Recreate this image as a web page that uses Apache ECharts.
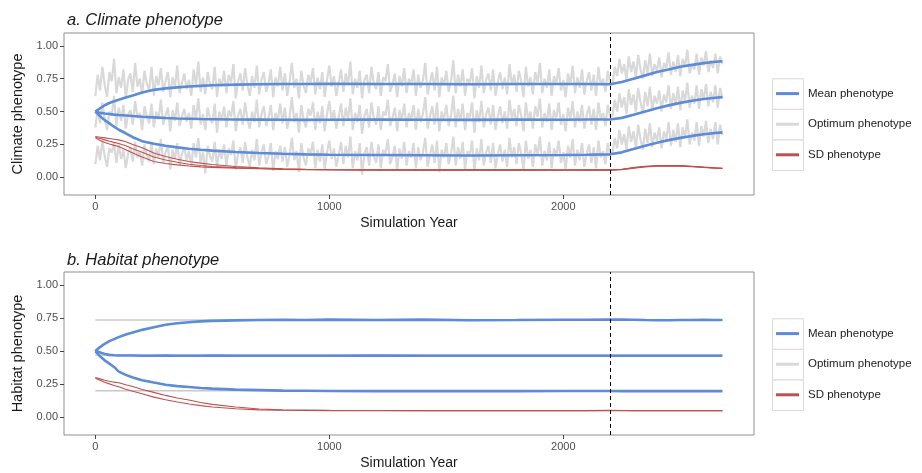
<!DOCTYPE html>
<html><head><meta charset="utf-8">
<script src="https://cdn.jsdelivr.net/npm/echarts@6/dist/echarts.min.js"></script>
<style>html,body{margin:0;padding:0;background:#fff}#c{width:922px;height:473px}</style>
</head><body><div id="c"></div>
<script>
// ---------- tick labels / markers ----------
const xTicks = [0, 1000, 2000];
const yTicks = [0, 0.25, 0.5, 0.75, 1.0];
const changeYear = 2200;
const seriesNames = ['Mean phenotype', 'Optimum phenotype', 'SD phenotype'];

// ---------- optimum (noisy) climate phenotype, one value per 10 simulation years (0..2680) ----------
const optYears = Array.from({length: 269}, (_, i) => i * 10);
const climOptHigh = [
0.62,0.78,0.66,0.84,0.70,0.61,0.80,0.73,0.90,0.64,0.76,0.68,0.82,0.60,0.74,0.79,0.65,0.87,0.69,0.75,
0.63,0.81,0.71,0.66,0.84,0.62,0.77,0.70,0.83,0.65,0.73,0.80,0.61,0.76,0.69,0.85,0.64,0.72,0.79,0.67,
0.74,0.62,0.82,0.70,0.88,0.65,0.76,0.63,0.80,0.71,0.67,0.84,0.61,0.75,0.69,0.81,0.64,0.78,0.72,0.86,
0.60,0.73,0.79,0.66,0.83,0.70,0.62,0.77,0.68,0.85,0.63,0.74,0.80,0.65,0.71,0.82,0.61,0.76,0.69,0.84,
0.66,0.79,0.62,0.73,0.87,0.68,0.75,0.60,0.81,0.70,0.64,0.78,0.72,0.83,0.63,0.76,0.67,0.80,0.61,0.74,
0.85,0.69,0.77,0.62,0.72,0.82,0.65,0.79,0.70,0.88,0.63,0.75,0.68,0.81,0.60,0.74,0.78,0.64,0.84,0.71,
0.67,0.80,0.62,0.76,0.73,0.86,0.65,0.71,0.79,0.61,0.77,0.69,0.83,0.64,0.75,0.70,0.82,0.62,0.78,0.68,
0.74,0.87,0.63,0.72,0.80,0.66,0.84,0.61,0.76,0.70,0.81,0.65,0.73,0.89,0.64,0.78,0.69,0.82,0.62,0.75,
0.71,0.83,0.60,0.77,0.68,0.85,0.64,0.74,0.79,0.66,0.82,0.62,0.72,0.80,0.67,0.76,0.63,0.86,0.70,0.78,
0.65,0.81,0.73,0.61,0.84,0.69,0.76,0.63,0.80,0.72,0.87,0.64,0.75,0.68,0.82,0.62,0.77,0.71,0.83,0.66,
0.74,0.61,0.79,0.70,0.85,0.64,0.76,0.68,0.82,0.63,0.73,0.80,0.66,0.78,0.62,0.84,0.70,0.75,0.65,0.81,
0.72,
0.70,0.84,0.77,0.90,0.79,0.86,0.74,0.92,0.80,0.88,0.76,0.93,0.82,0.75,0.89,0.79,0.94,0.77,0.86,0.81,
0.91,0.76,0.87,0.83,0.95,0.78,0.88,0.80,0.93,0.77,0.90,0.84,0.97,0.79,0.86,0.82,0.94,0.78,0.91,0.85,
0.96,0.80,0.89,0.83,0.94,0.79,0.92,0.86];
const climOptMid = [
0.38,0.52,0.41,0.57,0.44,0.36,0.50,0.47,0.62,0.39,0.53,0.43,0.55,0.37,0.48,0.51,0.40,0.58,0.45,0.49,
0.36,0.54,0.46,0.41,0.56,0.38,0.50,0.44,0.59,0.40,0.47,0.53,0.35,0.51,0.43,0.57,0.39,0.46,0.52,0.42,
0.49,0.37,0.55,0.44,0.60,0.40,0.48,0.36,0.53,0.45,0.41,0.56,0.34,0.50,0.43,0.54,0.38,0.51,0.46,0.58,
0.35,0.47,0.52,0.40,0.57,0.44,0.37,0.50,0.42,0.59,0.38,0.48,0.54,0.39,0.45,0.55,0.36,0.49,0.43,0.56,
0.41,0.53,0.37,0.46,0.61,0.42,0.49,0.34,0.55,0.44,0.38,0.52,0.47,0.57,0.36,0.50,0.41,0.54,0.35,0.48,
0.58,0.43,0.51,0.37,0.46,0.56,0.39,0.53,0.44,0.60,0.36,0.49,0.42,0.55,0.33,0.47,0.52,0.38,0.57,0.45,
0.40,0.54,0.36,0.50,0.47,0.59,0.39,0.45,0.53,0.35,0.51,0.43,0.56,0.38,0.49,0.44,0.55,0.36,0.52,0.42,
0.48,0.61,0.37,0.46,0.54,0.40,0.57,0.35,0.50,0.44,0.55,0.39,0.47,0.62,0.38,0.52,0.43,0.56,0.36,0.49,
0.45,0.57,0.34,0.51,0.42,0.58,0.38,0.48,0.53,0.40,0.55,0.36,0.46,0.54,0.41,0.50,0.37,0.59,0.44,0.52,
0.39,0.55,0.47,0.35,0.57,0.43,0.50,0.37,0.54,0.46,0.60,0.38,0.49,0.42,0.56,0.36,0.51,0.45,0.57,0.40,
0.48,0.35,0.53,0.44,0.58,0.38,0.50,0.42,0.55,0.37,0.47,0.54,0.40,0.52,0.36,0.57,0.44,0.49,0.39,0.55,
0.46,
0.47,0.59,0.50,0.64,0.53,0.61,0.48,0.67,0.55,0.63,0.50,0.68,0.57,0.49,0.65,0.54,0.69,0.51,0.62,0.56,
0.66,0.50,0.63,0.57,0.70,0.52,0.64,0.55,0.69,0.51,0.66,0.58,0.72,0.53,0.62,0.56,0.70,0.52,0.67,0.59,
0.71,0.54,0.65,0.57,0.70,0.53,0.68,0.60];
const climOptLow = [
0.10,0.24,0.13,0.28,0.16,0.08,0.22,0.19,0.26,0.11,0.25,0.14,0.21,0.07,0.18,0.23,0.12,0.27,0.15,0.20,
0.09,0.25,0.17,0.12,0.27,0.10,0.22,0.15,0.29,0.11,0.19,0.24,0.06,0.21,0.14,0.26,0.09,0.18,0.23,0.13,
0.20,0.08,0.26,0.15,0.30,0.11,0.19,0.03,0.24,0.16,0.12,0.27,0.07,0.21,0.14,0.25,0.09,0.22,0.17,0.28,
0.06,0.18,0.23,0.11,0.27,0.15,0.08,0.21,0.13,0.29,0.09,0.19,0.25,0.10,0.16,0.26,0.05,0.20,0.14,0.24,
0.12,0.23,0.08,0.17,0.30,0.13,0.20,0.04,0.26,0.15,0.09,0.22,0.18,0.27,0.07,0.21,0.12,0.25,0.06,0.19,
0.28,0.14,0.22,0.08,0.17,0.27,0.10,0.24,0.15,0.31,0.07,0.20,0.13,0.26,0.02,0.18,0.23,0.09,0.27,0.16,
0.11,0.25,0.07,0.21,0.18,0.29,0.10,0.16,0.24,0.05,0.22,0.14,0.27,0.09,0.20,0.15,0.26,0.07,0.23,0.13,
0.19,0.30,0.08,0.17,0.25,0.11,0.28,0.04,0.21,0.15,0.26,0.10,0.18,0.31,0.09,0.23,0.14,0.27,0.06,0.20,
0.16,0.28,0.05,0.22,0.13,0.29,0.09,0.19,0.24,0.11,0.26,0.07,0.17,0.25,0.12,0.21,0.08,0.30,0.15,0.23,
0.10,0.26,0.18,0.06,0.28,0.14,0.21,0.08,0.25,0.17,0.31,0.09,0.20,0.13,0.27,0.07,0.22,0.16,0.28,0.11,
0.19,0.06,0.24,0.15,0.29,0.09,0.21,0.13,0.26,0.08,0.18,0.25,0.11,0.23,0.07,0.28,0.15,0.20,0.10,0.26,
0.17,
0.19,0.30,0.22,0.36,0.25,0.33,0.21,0.39,0.27,0.35,0.22,0.40,0.29,0.21,0.37,0.26,0.41,0.23,0.34,0.28,
0.38,0.22,0.35,0.29,0.42,0.24,0.36,0.27,0.41,0.23,0.38,0.30,0.44,0.25,0.34,0.28,0.42,0.24,0.39,0.31,
0.43,0.26,0.37,0.29,0.42,0.25,0.40,0.32];

// ---------- smooth mean / SD trajectories ----------
const lineYears = [0,20,40,60,80,100,130,160,200,250,300,350,400,450,500,600,700,800,900,1000,
  1200,1400,1600,1800,2000,2100,2200,2250,2300,2350,2400,2450,2500,2550,2600,2650,2680];

const climMeanHigh = [0.50,0.525,0.548,0.565,0.578,0.59,0.607,0.622,0.645,0.665,0.676,0.684,0.69,0.695,0.70,0.705,0.708,0.71,0.71,0.711,
  0.709,0.71,0.707,0.709,0.71,0.709,0.708,0.725,0.75,0.775,0.80,0.82,0.84,0.855,0.868,0.878,0.882];
const climMeanMid = [0.50,0.49,0.485,0.481,0.477,0.474,0.47,0.466,0.461,0.456,0.451,0.447,0.445,0.443,0.442,0.44,0.439,0.438,0.437,0.438,
  0.44,0.438,0.437,0.439,0.438,0.44,0.44,0.452,0.475,0.50,0.525,0.547,0.566,0.582,0.595,0.605,0.61];
const climMeanLow = [0.50,0.465,0.435,0.41,0.385,0.362,0.335,0.305,0.275,0.255,0.24,0.228,0.218,0.21,0.203,0.193,0.185,0.179,0.175,0.172,
  0.17,0.168,0.166,0.168,0.17,0.172,0.175,0.19,0.215,0.24,0.263,0.283,0.30,0.315,0.327,0.337,0.342];
const climSdA = [0.31,0.305,0.30,0.295,0.29,0.285,0.27,0.25,0.225,0.185,0.158,0.138,0.12,0.108,0.098,0.083,0.072,0.066,0.062,0.06,
  0.058,0.057,0.058,0.057,0.056,0.057,0.057,0.062,0.075,0.084,0.088,0.09,0.089,0.085,0.078,0.072,0.069];
const climSdB = [0.305,0.295,0.285,0.275,0.266,0.258,0.24,0.218,0.19,0.155,0.132,0.115,0.10,0.09,0.083,0.074,0.067,0.063,0.06,0.058,
  0.056,0.057,0.056,0.057,0.056,0.056,0.056,0.06,0.072,0.082,0.087,0.088,0.087,0.083,0.077,0.071,0.068];
const climSdC = [0.30,0.28,0.265,0.253,0.243,0.235,0.21,0.185,0.155,0.12,0.105,0.095,0.086,0.08,0.076,0.07,0.065,0.061,0.059,0.057,
  0.055,0.056,0.055,0.056,0.055,0.055,0.055,0.059,0.07,0.08,0.085,0.086,0.085,0.081,0.075,0.07,0.067];

const habOptimum = [0.735, 0.47, 0.20];
const habOptYears = [0, 2680];
const habMeanHigh = [0.50,0.53,0.555,0.575,0.59,0.605,0.625,0.64,0.66,0.68,0.698,0.71,0.718,0.724,0.728,0.732,0.734,0.736,0.735,0.737,
  0.735,0.737,0.733,0.734,0.736,0.736,0.737,0.737,0.736,0.734,0.733,0.733,0.735,0.734,0.736,0.735,0.734];
const habMeanMid = [0.50,0.49,0.478,0.471,0.468,0.466,0.466,0.466,0.465,0.465,0.466,0.465,0.464,0.465,0.466,0.465,0.465,0.464,0.465,0.465,
  0.466,0.465,0.464,0.465,0.465,0.465,0.465,0.465,0.465,0.465,0.465,0.464,0.465,0.465,0.464,0.464,0.464];
const habMeanLow = [0.50,0.46,0.43,0.405,0.38,0.345,0.32,0.30,0.28,0.262,0.245,0.235,0.228,0.221,0.216,0.209,0.205,0.201,0.20,0.198,
  0.197,0.198,0.197,0.197,0.198,0.198,0.198,0.197,0.197,0.197,0.197,0.197,0.198,0.197,0.197,0.197,0.197];
const habSdA = [0.30,0.29,0.28,0.272,0.265,0.26,0.245,0.232,0.21,0.188,0.165,0.145,0.13,0.112,0.097,0.078,0.062,0.056,0.054,0.052,
  0.051,0.05,0.05,0.051,0.05,0.05,0.052,0.051,0.05,0.05,0.05,0.05,0.05,0.05,0.05,0.05,0.05];
const habSdB = [0.295,0.28,0.265,0.252,0.24,0.23,0.212,0.197,0.178,0.152,0.132,0.115,0.10,0.088,0.077,0.064,0.056,0.053,0.051,0.05,
  0.049,0.049,0.049,0.049,0.049,0.049,0.05,0.049,0.049,0.049,0.049,0.049,0.049,0.049,0.049,0.049,0.049];

// ---------- build ----------
const pairs = (xs, ys) => xs.map((x, i) => [x, ys[i]]);
const FONT = 'Liberation Sans, Arial, sans-serif';
const BLUE = '#5b8bd9', GRAY = '#d9d9d9', RED = '#c0504d';

const grids = [
  {left: 64, top: 33, width: 690, height: 162},
  {left: 64, top: 272, width: 690, height: 163}
].map(g => Object.assign(g, {show: true, borderColor: '#8f8f8f', borderWidth: 1, backgroundColor: '#fff'}));

const mkX = (gi) => ({
  type: 'value', gridIndex: gi, min: -134, max: 2815,
  name: 'Simulation Year', nameLocation: 'middle', nameGap: 21,
  nameTextStyle: {fontFamily: FONT, fontSize: 14, color: '#1a1a1a'},
  axisLine: {show: false, onZero: false},
  splitLine: {show: false},
  axisTick: {show: true, length: 4, lineStyle: {color: '#444'}, customValues: xTicks},
  axisLabel: {fontFamily: FONT, fontSize: 11, color: '#4d4d4d', margin: 6, customValues: xTicks,
    formatter: v => String(v)}
});
const mkY = (gi, name) => ({
  type: 'value', gridIndex: gi, min: -0.134, max: 1.097,
  name: name, nameLocation: 'middle', nameGap: 33,
  nameTextStyle: {fontFamily: FONT, fontSize: 14.5, color: '#1a1a1a'},
  axisLine: {show: false, onZero: false},
  splitLine: {show: false},
  axisTick: {show: true, length: 4, lineStyle: {color: '#444'}, customValues: yTicks},
  axisLabel: {fontFamily: FONT, fontSize: 11, color: '#4d4d4d', margin: 6, customValues: yTicks,
    formatter: v => Number(v).toFixed(2)}
});

const series = [];
const line = (gi, name, xs, ys, color, width, z, extra) => {
  const s = Object.assign({
    type: 'line', name: name, xAxisIndex: gi, yAxisIndex: gi,
    data: pairs(xs, ys), showSymbol: false, symbol: 'none', z: z,
    lineStyle: {color: color, width: width}, itemStyle: {color: color},
    silent: true, animation: false
  }, extra || {});
  series.push(s);
};
const vline = {
  silent: true, symbol: 'none', label: {show: false},
  lineStyle: {color: '#000', type: [4, 3], width: 1},
  data: [{xAxis: changeYear}]
};

// panel a
line(0, 'Optimum phenotype', optYears, climOptHigh, GRAY, 2.2, 1, {markLine: vline});
line(0, 'Optimum phenotype', optYears, climOptMid, GRAY, 2.2, 1);
line(0, 'Optimum phenotype', optYears, climOptLow, GRAY, 2.2, 1);
[climMeanHigh, climMeanMid, climMeanLow].forEach(v => line(0, 'Mean phenotype', lineYears, v, BLUE, 2.6, 3));
[climSdA, climSdB, climSdC].forEach(v => line(0, 'SD phenotype', lineYears, v, RED, 1.1, 4));
// panel b
habOptimum.forEach((v, i) => line(1, 'Optimum phenotype', habOptYears, [v, v], '#c8c8c8', 1.6, 1,
  i === 0 ? {markLine: vline} : null));
[habMeanHigh, habMeanMid, habMeanLow].forEach(v => line(1, 'Mean phenotype', lineYears, v, BLUE, 2.6, 3));
[habSdA, habSdB].forEach(v => line(1, 'SD phenotype', lineYears, v, RED, 1.1, 4));

const legendFor = (top) => ({
  orient: 'vertical', left: 776, top: top, padding: 0,
  itemWidth: 23, itemHeight: 3, itemGap: 16.6, selectedMode: false,
  data: seriesNames.map(n => ({name: n, icon: 'rect'})),
  textStyle: {fontFamily: FONT, fontSize: 11.5, color: '#1a1a1a', lineHeight: 14, padding: [0, 0, 0, 4]}
});

const cells = [];
[78.3, 318.3].forEach(t => {
  for (let k = 0; k < 3; k++) {
    cells.push({type: 'rect', left: 772, top: t + k * 30.6, silent: true,
      shape: {width: 31, height: 30.6}, style: {fill: '#fff', stroke: '#d9d9d9', lineWidth: 1}, z: -1});
  }
});

const chart = echarts.init(document.getElementById('c'), null, {renderer: 'canvas'});
chart.setOption({
  animation: false,
  backgroundColor: '#fff',
  title: [
    {text: 'a. Climate phenotype', left: 62, top: 7, textStyle: {fontFamily: FONT, fontSize: 16.5, fontStyle: 'italic', fontWeight: 'normal', color: '#1a1a1a'}},
    {text: 'b. Habitat phenotype', left: 62, top: 247, textStyle: {fontFamily: FONT, fontSize: 16.5, fontStyle: 'italic', fontWeight: 'normal', color: '#1a1a1a'}}
  ],
  grid: grids,
  xAxis: [mkX(0), mkX(1)],
  yAxis: [mkY(0, 'Climate phenotype'), mkY(1, 'Habitat phenotype')],
  legend: [legendFor(86.6), legendFor(326.6)],
  graphic: cells,
  series: series
});
</script></body></html>
